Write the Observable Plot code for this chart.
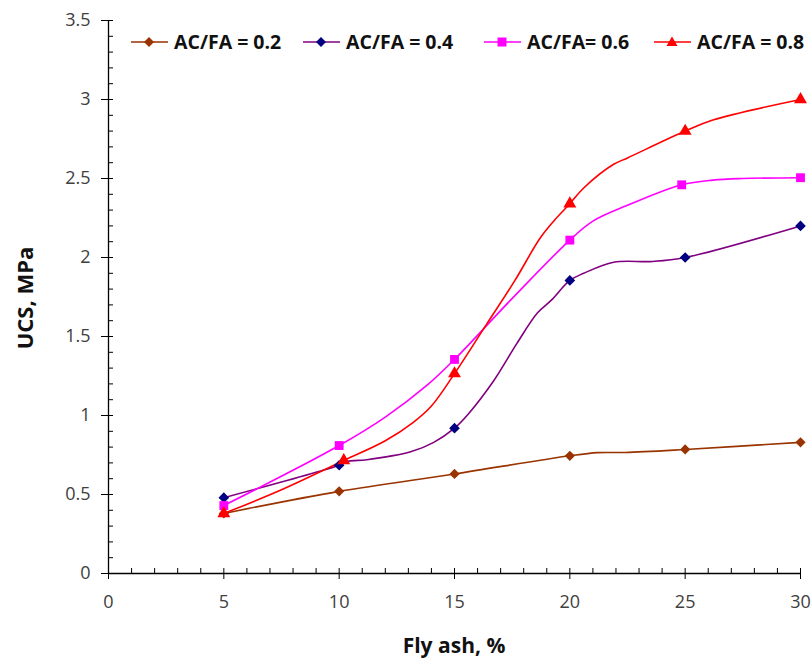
<!DOCTYPE html>
<html>
<head>
<meta charset="utf-8">
<script src="https://cdn.jsdelivr.net/npm/d3@7"></script>
<script src="https://cdn.jsdelivr.net/npm/@observablehq/plot@0.6"></script>
<style>
  html, body { margin: 0; padding: 0; background: #fff; }
  #wrap { position: relative; width: 811px; height: 662px; font-family: "Open Sans", sans-serif; }
  #legend { position: absolute; left: 0; top: 0; width: 811px; height: 60px; }
  .item { position: absolute; top: 29px; display: flex; align-items: center; font-weight: bold; font-size: 19.5px; color: #111; line-height: 26px; }
  .item svg { margin-right: 6px; }
</style>
</head>
<body>
<div id="wrap"><div id="legend"></div></div>
<script>
// Series names
const seriesNames = ["AC/FA = 0.2", "AC/FA = 0.4", "AC/FA= 0.6", "AC/FA = 0.8"];
const seriesColors = ["#993300", "#800080", "#FF00FF", "#FF0000"];
const markerColors = ["#993300", "#000080", "#FF00FF", "#FF0000"];

// Marker points (Fly ash %, UCS MPa)
const fly02 = [5, 10, 15, 20, 25, 30];
const ucs02 = [0.38, 0.52, 0.63, 0.745, 0.785, 0.83];
const fly04 = [5, 10, 15, 20, 25, 30];
const ucs04 = [0.48, 0.685, 0.92, 1.855, 2.0, 2.2];
const fly06 = [5, 10, 15, 20, 24.85, 30];
const ucs06 = [0.43, 0.81, 1.355, 2.11, 2.46, 2.505];
const fly08 = [5, 10.2, 15, 20, 25, 30];
const ucs08 = [0.38, 0.715, 1.265, 2.34, 2.8, 3.0];

// Curve points
const lineX02 = [5, 10, 15, 20, 21.2, 22.4, 25, 30];
const lineY02 = [0.38, 0.52, 0.63, 0.745, 0.765, 0.766, 0.785, 0.83];
const lineX04 = [5, 10, 10.4, 11.2, 13.1, 14.1, 15, 15.6, 16.7, 17.7, 18.6, 19.2, 20, 20.6, 21.9, 23.6, 25, 30];
const lineY04 = [0.48, 0.685, 0.71, 0.72, 0.77, 0.83, 0.92, 1.01, 1.22, 1.455, 1.65, 1.73, 1.855, 1.9, 1.97, 1.975, 2.0, 2.2];
const lineX06 = [5, 10, 12, 13.8, 15, 17.43, 20, 21, 22.5, 24.85, 26.2, 27.5, 30];
const lineY06 = [0.43, 0.81, 0.99, 1.19, 1.355, 1.73, 2.11, 2.23, 2.33, 2.46, 2.49, 2.5, 2.505];
const lineX08 = [5, 7.5, 10.2, 12, 13.2, 14, 15, 16.4, 17.6, 18.7, 19.3, 20, 20.6, 21.9, 22.5, 25, 26.2, 30];
const lineY08 = [0.38, 0.53, 0.715, 0.84, 0.955, 1.06, 1.265, 1.58, 1.85, 2.12, 2.23, 2.34, 2.44, 2.59, 2.63, 2.8, 2.87, 3.0];

// Ticks
const xTicks = [0, 5, 10, 15, 20, 25, 30];
const xMinor = d3.range(0, 31, 1);
const yTicks = [0, 0.5, 1, 1.5, 2, 2.5, 3, 3.5];
const yMinor = d3.range(0, 36, 1).map(d => d / 10);

const symbols = ["diamond2", "diamond2", "square", "triangle"];
const radii = [4.6, 4.8, 5.0, 4.8];

const lineX = [lineX02, lineX04, lineX06, lineX08];
const lineY = [lineY02, lineY04, lineY06, lineY08];
const markX = [fly02, fly04, fly06, fly08];
const markY = [ucs02, ucs04, ucs06, ucs08];

const lineData = [];
const markData = [];
seriesNames.forEach((s, i) => {
  lineX[i].forEach((x, j) => lineData.push({s, i, x, y: lineY[i][j]}));
  markX[i].forEach((x, j) => markData.push({s, i, x, y: markY[i][j]}));
});

const tickColor = "#404040";
const marks = [
  Plot.ruleY([0], {stroke: "#000", strokeWidth: 1.3}),
  Plot.ruleX([0], {stroke: "#000", strokeWidth: 1.3}),
  Plot.axisX({ticks: xTicks, tickSize: 6, tickPadding: 16, tickFormat: d => String(d), fontSize: 18, color: tickColor, stroke: "#000", label: null}),
  Plot.axisX({ticks: xMinor, tickSize: -5, tickFormat: () => "", stroke: "#000", label: null}),
  Plot.axisY({ticks: yTicks, tickSize: 7, tickPadding: 11, tickFormat: d => String(d), fontSize: 18, color: tickColor, stroke: "#000", label: null}),
  Plot.axisY({ticks: yMinor, tickSize: -5, tickFormat: () => "", stroke: "#000", label: null})
];
seriesNames.forEach((s, i) => {
  marks.push(Plot.line(lineData.filter(d => d.i === i), {x: "x", y: "y", stroke: seriesColors[i], strokeWidth: 1.6, curve: "catmull-rom"}));
});
seriesNames.forEach((s, i) => {
  marks.push(Plot.dot(markData.filter(d => d.i === i), {x: "x", y: "y", symbol: () => symbols[i], r: radii[i], fill: markerColors[i], stroke: "none"}));
});

const chart = Plot.plot({
  width: 811,
  height: 662,
  marginLeft: 108,
  marginRight: 11,
  marginTop: 20,
  marginBottom: 89,
  style: {fontFamily: "Open Sans, sans-serif", background: "#fff"},
  x: {domain: [0, 30], label: null},
  y: {domain: [0, 3.5], label: null},
  symbol: {type: "identity"},
  marks
});
chart.style.position = "absolute";
chart.style.left = "0px";
chart.style.top = "0px";
const wrap = document.getElementById("wrap");
wrap.insertBefore(chart, wrap.firstChild);

// Axis titles
const ns = "http://www.w3.org/2000/svg";
const xt = document.createElementNS(ns, "text");
xt.setAttribute("x", 454); xt.setAttribute("y", 653);
xt.setAttribute("text-anchor", "middle");
xt.setAttribute("font-size", "21"); xt.setAttribute("font-weight", "bold"); xt.setAttribute("fill", "#111");
xt.textContent = "Fly ash, %";
chart.appendChild(xt);
const yt = document.createElementNS(ns, "text");
yt.setAttribute("transform", "translate(33,298) rotate(-90)");
yt.setAttribute("text-anchor", "middle");
yt.setAttribute("font-size", "22"); yt.setAttribute("font-weight", "bold"); yt.setAttribute("fill", "#111");
yt.textContent = "UCS, MPa";
chart.appendChild(yt);

// Legend
const legendLeft = [131, 303, 484, 654];
const legend = document.getElementById("legend");
const shapePath = {
  diamond2: "M18,8 L23,13 L18,18 L13,13 Z",
  square: "M13.5,8.5 H22.5 V17.5 H13.5 Z",
  triangle: "M18,7.5 L23.5,17 L12.5,17 Z"
};
seriesNames.forEach((s, i) => {
  const div = document.createElement("div");
  div.className = "item";
  div.style.left = legendLeft[i] + "px";
  div.innerHTML = `<svg width="37" height="26"><line x1="0" y1="13" x2="37" y2="13" stroke="${seriesColors[i]}" stroke-width="1.6"/><path d="${shapePath[symbols[i]]}" fill="${markerColors[i]}"/></svg><span>${s}</span>`;
  legend.appendChild(div);
});
</script>
</body>
</html>
